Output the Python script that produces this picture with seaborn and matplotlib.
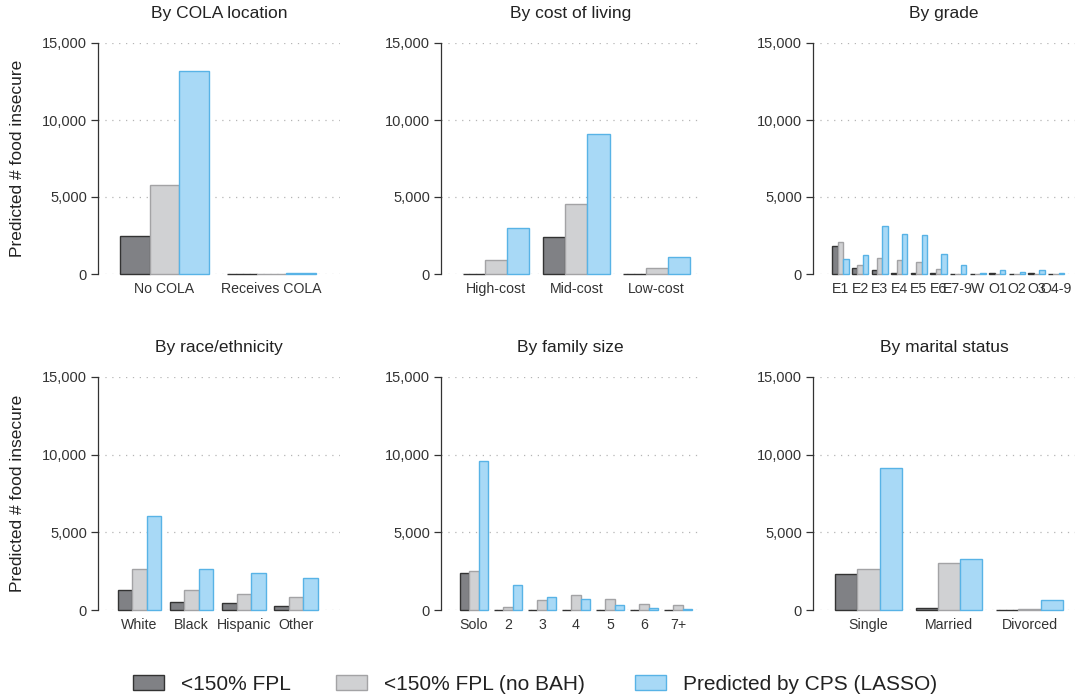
import numpy as np
import pandas as pd
import matplotlib
matplotlib.use("Agg")
import matplotlib.pyplot as plt
from matplotlib.ticker import StrMethodFormatter
import seaborn as sns

# series shown in every panel
series = ["<150% FPL", "<150% FPL (no BAH)", "Predicted by CPS (LASSO)"]

# By COLA location
cola_cats = ["No COLA", "Receives COLA"]
cola_fpl = [2480, 0]
cola_nobah = [5780, 30]
cola_cps = [13180, 50]

# By cost of living
cost_cats = ["High-cost", "Mid-cost", "Low-cost"]
cost_fpl = [30, 2430, 30]
cost_nobah = [900, 4560, 370]
cost_cps = [3010, 9070, 1075]

# By grade
grade_cats = ["E1", "E2", "E3", "E4", "E5", "E6", "E7-9", "W", "O1", "O2", "O3", "O4-9"]
grade_fpl = [1830, 390, 260, 50, 40, 50, 0, 10, 50, 20, 40, 10]
grade_nobah = [2100, 600, 1010, 880, 800, 320, 30, 20, 30, 20, 30, 20]
grade_cps = [990, 1250, 3140, 2620, 2560, 1330, 560, 60, 240, 100, 250, 60]

# By race/ethnicity
race_cats = ["White", "Black", "Hispanic", "Other"]
race_fpl = [1265, 495, 430, 240]
race_nobah = [2615, 1265, 1010, 815]
race_cps = [6040, 2615, 2355, 2035]

# By family size
fam_cats = ["Solo", "2", "3", "4", "5", "6", "7+"]
fam_fpl = [2360, 20, 10, 10, 10, -30, 10]
fam_nobah = [2525, 170, 620, 945, 690, 365, 320]
fam_cps = [9575, 1610, 815, 690, 300, 110, 40]

# By marital status
mar_cats = ["Single", "Married", "Divorced"]
mar_fpl = [2335, 110, 30]
mar_nobah = [2615, 3000, 70]
mar_cps = [9150, 3300, 640]

panels = [
    ("By COLA location", cola_cats, cola_fpl, cola_nobah, cola_cps),
    ("By cost of living", cost_cats, cost_fpl, cost_nobah, cost_cps),
    ("By grade", grade_cats, grade_fpl, grade_nobah, grade_cps),
    ("By race/ethnicity", race_cats, race_fpl, race_nobah, race_cps),
    ("By family size", fam_cats, fam_fpl, fam_nobah, fam_cps),
    ("By marital status", mar_cats, mar_fpl, mar_nobah, mar_cps),
]

fills = ["#808185", "#d0d1d3", "#a8d9f6"]
edges = ["#333333", "#a3a3a5", "#58b3e6"]

sns.set_theme(style="white")
plt.rcParams["font.family"] = ["Liberation Sans", "DejaVu Sans"]
text_col = "#333333"

W, H = 1081, 698
fig = plt.figure(figsize=(W / 100, H / 100), dpi=100)

# axes boxes in pixels (left, top, right, bottom) and x limits in category units
boxes = [(98, 43, 340, 274), (441, 43, 700, 274), (813, 43, 1075, 274),
         (98, 377, 340, 610), (441, 377, 700, 610), (813, 377, 1075, 610)]
xlims = [(-0.62, 1.64), (-0.685, 2.54), (-1.40, 11.96),
         (-0.795, 3.84), (-0.97, 6.65), (-0.69, 2.565)]

axes = []
for i, (title, cats, fpl, nobah, cps) in enumerate(panels):
    l, t, r, b = boxes[i]
    ax = fig.add_axes([l / W, 1 - b / H, (r - l) / W, (b - t) / H])
    df = pd.concat([
        pd.DataFrame({"cat": cats, "value": vals, "series": s})
        for s, vals in zip(series, [fpl, nobah, cps])
    ])
    sns.barplot(data=df, x="cat", y="value", hue="series", order=cats,
                hue_order=series, palette=dict(zip(series, fills)),
                width=0.83, errorbar=None, legend=False, saturation=1, ax=ax)
    for k, cont in enumerate(ax.containers):
        for bar in cont:
            bar.set_edgecolor(edges[k])
            bar.set_linewidth(1.0)
            bar.set_clip_on(False)
    ax.set_xlim(*xlims[i])
    ax.set_ylim(0, 15000)
    ax.set_yticks([0, 5000, 10000, 15000])
    ax.yaxis.set_major_formatter(StrMethodFormatter("{x:,.0f}"))
    ax.yaxis.grid(True, linestyle=(0, (1, 4.5)), color="#b5b5b5", lw=0.9)
    ax.set_axisbelow(True)
    for side in ["top", "right", "bottom"]:
        ax.spines[side].set_visible(False)
    ax.spines["left"].set_color(text_col)
    ax.spines["left"].set_linewidth(0.9)
    ax.tick_params(axis="y", direction="out", length=5, width=0.9, color=text_col,
                   labelcolor=text_col, labelsize=10.5, pad=3, left=True)
    ax.tick_params(axis="x", length=0, labelcolor=text_col, labelsize=10.2, pad=6)
    ax.set_xlabel("")
    ax.set_title(title, fontsize=12.5, color="#222222", pad=18)
    if i % 3 == 0:
        ax.set_ylabel("Predicted # food insecure", fontsize=12.5, color="#222222")
        ax.yaxis.set_label_coords(-0.30, 0.5)
    else:
        ax.set_ylabel("")
    axes.append(ax)

# legend: three entries placed along the bottom
handle_x = [133, 336, 635]
for k, s in enumerate(series):
    fig.legend(handles=[axes[0].containers[k]], labels=[s], loc="center left",
               bbox_to_anchor=((handle_x[k] - 19) / W, 1 - 684 / H), frameon=False,
               fontsize=15, handlelength=1.5, handleheight=0.75, handletextpad=0.8,
               labelcolor="#222222")

fig.savefig("out.png", dpi=100)
